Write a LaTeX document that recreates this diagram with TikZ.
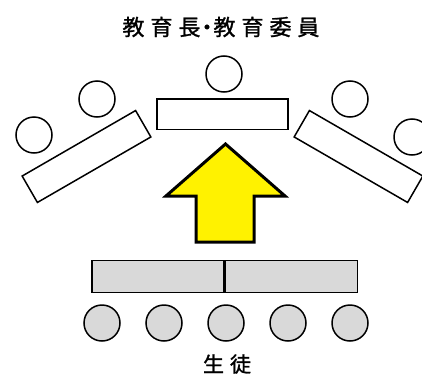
\documentclass[tikz,border=0pt]{standalone}
\usepackage{fontspec}
\newfontfamily\jpfont[FakeBold=1.2]{Noto Sans CJK JP}
\usetikzlibrary{positioning}

\tikzset{
  seat/.style={circle, draw, line width=1.5pt, minimum size=36pt, inner sep=0pt},
  pupil/.style={seat, fill=gray!30},
  desk/.style={rectangle, draw, line width=1.5pt, minimum width=131pt, minimum height=30.5pt, inner sep=0pt},
  bench/.style={rectangle, draw, line width=1.2pt, fill=gray!30, minimum width=132pt, minimum height=32pt, inner sep=0pt},
  bigarrow/.style={draw, line width=3pt, fill=yellow, line join=miter},
  caption/.style={font=\jpfont\fontsize{22pt}{22pt}\selectfont, inner sep=0pt}
}
\def\gap{\hspace{6pt}}

\begin{document}
\begin{tikzpicture}[x=1pt, y=1pt]
        \useasboundingbox (0,0) rectangle (422,376);

        % board members
        \node[caption] (title) at (221,349) {教\gap 育\gap 長\hspace{-4.5pt}・\hspace{-4.5pt}教\gap 育\gap 委\gap 員};
        \node[seat] (chief) at (224,302) {};
        \node[desk] (chiefdesk) at (222.5,262) {};

        \node[desk, rotate=30] (leftdesk) at (86.5,219.5) {};
        \node[seat] (left1) at (34,241) {};
        \node[seat] (left2) at (97,277) {};

        \node[desk, rotate=-30] (rightdesk) at (358.5,219.5) {};
        \node[seat] (right1) at (350,277) {};
        \node[seat] (right2) at (412,239) {};

        % arrow
        \draw[bigarrow] (225.5,232) -- (166,180) -- (196,180) -- (196,134)
          -- (254,134) -- (254,180) -- (285,180) -- cycle;

        % students
        \node[bench] (bench1) at (158,99.5) {};
        \node[bench, right=0pt of bench1] (bench2) {};
        \foreach \x [count=\i] in {102,164,226,288,350}
          \node[pupil] (p\i) at (\x,53) {};
        \node[caption, font=\jpfont\fontsize{21pt}{21pt}\selectfont] (pupils) at (227,12) {生\gap 徒};
\end{tikzpicture}
\end{document}
